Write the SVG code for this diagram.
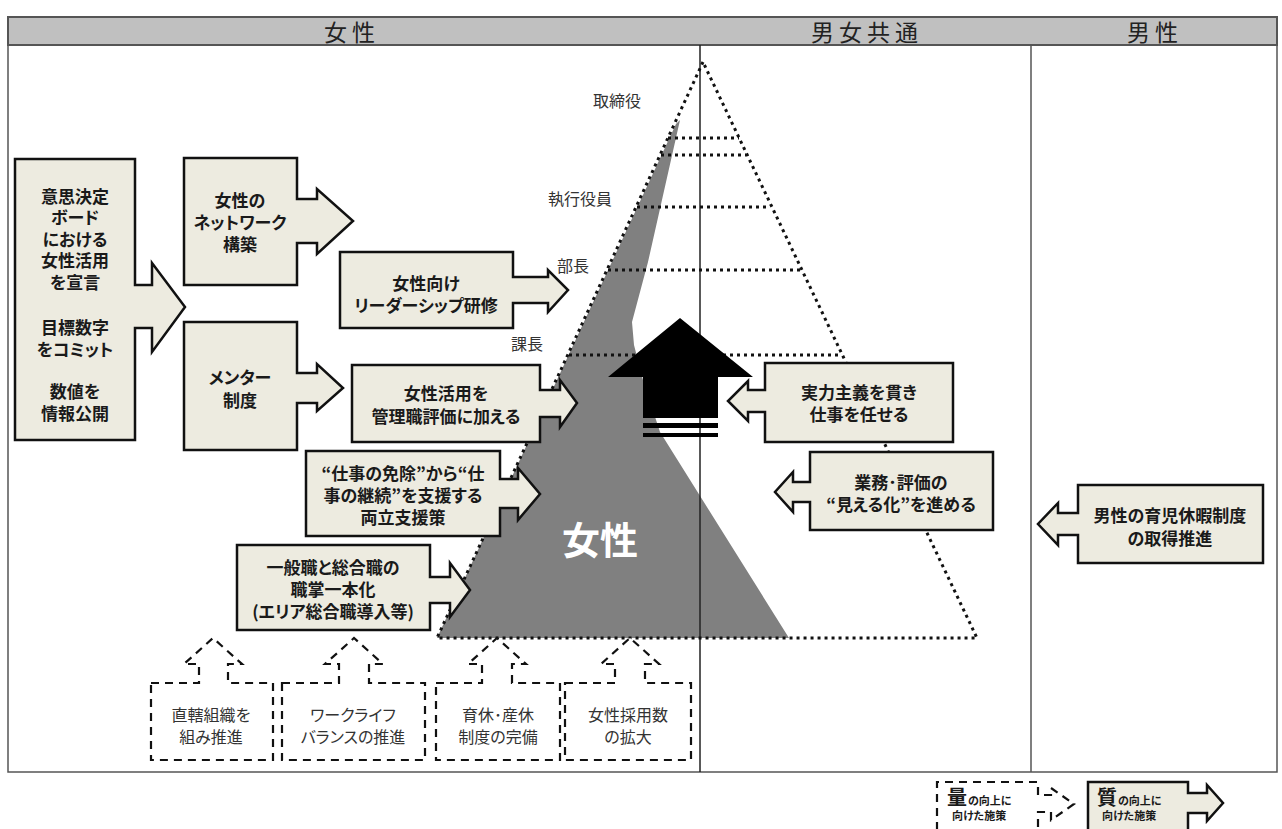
<svg xmlns="http://www.w3.org/2000/svg" width="1282" height="829" viewBox="0 0 1282 829">
<style>
.box{fill:#edebe0;stroke:#111;stroke-width:2.5;stroke-linejoin:miter}
.dbox{fill:#fff;stroke:#111;stroke-width:2.2;stroke-dasharray:8 6}
.dot{fill:none;stroke:#111;stroke-width:3;stroke-dasharray:3 4}
.t{font-family:"Noto Sans CJK JP","Noto Sans",sans-serif;font-weight:bold;font-size:17px;fill:#1a1a1a;text-anchor:middle;dominant-baseline:central;font-feature-settings:"palt"}
.n{font-family:"Noto Sans CJK JP","Noto Sans",sans-serif;font-weight:normal;font-size:16px;fill:#333;text-anchor:middle;dominant-baseline:central;font-feature-settings:"palt"}
.h{font-family:"Noto Sans CJK JP","Noto Sans",sans-serif;font-size:23px;fill:#222;text-anchor:middle;dominant-baseline:central;letter-spacing:5px}
.s{font-family:"Noto Sans CJK JP",sans-serif;font-weight:bold;font-size:11px;fill:#1a1a1a;dominant-baseline:central;font-feature-settings:"palt"}
.big{font-family:"Liberation Serif","Noto Sans CJK JP",serif;font-weight:bold;font-size:20px;fill:#1a1a1a;dominant-baseline:central}
</style>
<rect x="0" y="0" width="1282" height="829" fill="#fff"/>
<g id="frame">
<rect x="8" y="17" width="1269" height="755" fill="#fff" stroke="#555" stroke-width="1.5"/>
<rect x="8" y="17" width="1269" height="28" fill="#c0c0c0" stroke="#555" stroke-width="2"/>
<text class="h" x="352" y="31">女性</text>
<text class="h" x="867" y="31">男女共通</text>
<text class="h" x="1155" y="31">男性</text>
</g>
<g id="women-area">
<polygon points="680,120 648,262 632,322 634,345 643,380 660,432 789,638 437,638 676,124" fill="#808080"/>
<text x="600" y="537" font-family="Noto Sans CJK JP,sans-serif" font-weight="bold" font-size="38" fill="#fff" text-anchor="middle" dominant-baseline="central">女性</text>
</g>
<g id="dividers">
<line x1="700" y1="45" x2="700" y2="772" stroke="#222" stroke-width="1.5"/>
<line x1="1031" y1="45" x2="1031" y2="772" stroke="#555" stroke-width="1.5"/>
</g>
<g id="pyramid">
<path class="dot" d="M703,62 L437,638 H977 Z"/>
<line class="dot" x1="668" y1="138" x2="739" y2="138"/>
<line class="dot" x1="661" y1="155" x2="746" y2="155"/>
<line class="dot" x1="637" y1="207" x2="770" y2="207"/>
<line class="dot" x1="608" y1="270" x2="801" y2="270"/>
<line class="dot" x1="569" y1="355" x2="842" y2="355"/>
<text class="n" x="617" y="100">取締役</text>
<text class="n" x="580" y="198">執行役員</text>
<text class="n" x="573" y="265">部長</text>
<text class="n" x="527" y="343">課長</text>
</g>
<g id="up-arrow">
<path d="M680,318 L753,377 H718 V418 H643 V377 H608 Z" fill="#000"/>
<rect x="643" y="423" width="75" height="5" fill="#000"/>
<rect x="643" y="433" width="75" height="4" fill="#000"/>
</g>
<g id="connectors"></g>
<g id="n-declare">
<path class="box" d="M15,159 H135 V285 H152 V263 L185,307 L152,352 V328 H135 V440 H15 Z"/>
<text class="t" x="75" y="195">意思決定</text>
<text class="t" x="75" y="216">ボード</text>
<text class="t" x="75" y="238">における</text>
<text class="t" x="75" y="259">女性活用</text>
<text class="t" x="75" y="281">を宣言</text>
<text class="t" x="75" y="326">目標数字</text>
<text class="t" x="75" y="348">をコミット</text>
<text class="t" x="75" y="390">数値を</text>
<text class="t" x="75" y="412">情報公開</text>
</g>
<g id="n-network">
<path class="box" d="M184,158 H297 V199 H317 V189 L353,221 L317,254 V243 H297 V285 H184 Z"/>
<text class="t" x="240" y="199">女性の</text>
<text class="t" x="240" y="221">ネットワーク</text>
<text class="t" x="240" y="243">構築</text>
</g>
<g id="n-mentor">
<path class="box" d="M184,322 H297 V373 H317 V364 L343,388 L317,411 V403 H297 V450 H184 Z"/>
<text class="t" x="240" y="376">メンター</text>
<text class="t" x="240" y="399">制度</text>
</g>
<g id="n-leader">
<path class="box" d="M340,252 H513 V277 H548 V270 L568,290 L548,312 V303 H513 V328 H340 Z"/>
<text class="t" x="426" y="282">女性向け</text>
<text class="t" x="426" y="304">リーダーシップ研修</text>
</g>
<g id="n-eval">
<path class="box" d="M352,365 H540 V390 H560 V380 L577,403 L560,427 V417 H540 V442 H352 Z"/>
<text class="t" x="446" y="392">女性活用を</text>
<text class="t" x="446" y="415">管理職評価に加える</text>
</g>
<g id="n-balance">
<path class="box" d="M306,451 H500 V479 H518 V468 L540,494 L518,520 V508 H500 V536 H306 Z"/>
<text class="t" x="403" y="472">“仕事の免除”から“仕</text>
<text class="t" x="403" y="494">事の継続”を支援する</text>
<text class="t" x="403" y="516">両立支援策</text>
</g>
<g id="n-unify">
<path class="box" d="M237,545 H430 V577 H450 V563 L470,590 L450,617 V603 H430 V630 H237 Z"/>
<text class="t" x="333" y="566">一般職と総合職の</text>
<text class="t" x="333" y="588">職掌一本化</text>
<text class="t" x="333" y="610">(エリア総合職導入等)</text>
</g>
<g id="n-merit">
<path class="box" d="M953,363 H765 V390 H748 V381 L728,401 L748,421 V412 H765 V442 H953 Z"/>
<text class="t" x="859" y="391">実力主義を貫き</text>
<text class="t" x="859" y="413">仕事を任せる</text>
</g>
<g id="n-visible">
<path class="box" d="M993,452 H810 V482 H793 V472 L775,492 L793,512 V502 H810 V530 H993 Z"/>
<text class="t" x="901" y="481">業務･評価の</text>
<text class="t" x="901" y="503">“見える化”を進める</text>
</g>
<g id="n-men">
<path class="box" d="M1263,485 H1078 V513 H1058 V503 L1038,524 L1058,545 V535 H1078 V563 H1263 Z"/>
<text class="t" x="1170" y="514">男性の育児休暇制度</text>
<text class="t" x="1170" y="537">の取得推進</text>
</g>
<g id="n-direct">
<path class="dbox" d="M151,683 H199 V664 H184 L213,638 L242,664 H228 V683 H273 V760 H151 Z"/>
<text class="n" x="211" y="714">直轄組織を</text>
<text class="n" x="211" y="736">組み推進</text>
</g>
<g id="n-wlb">
<path class="dbox" d="M282,683 H339 V664 H325 L354,638 L383,664 H369 V683 H425 V760 H282 Z"/>
<text class="n" x="353" y="714">ワークライフ</text>
<text class="n" x="353" y="736">バランスの推進</text>
</g>
<g id="n-leave">
<path class="dbox" d="M436,683 H482 V664 H468 L497,638 L526,664 H512 V683 H560 V760 H436 Z"/>
<text class="n" x="498" y="714">育休･産休</text>
<text class="n" x="498" y="736">制度の完備</text>
</g>
<g id="n-hire">
<path class="dbox" d="M565,683 H615 V664 H601 L630,638 L659,664 H645 V683 H691 V760 H565 Z"/>
<text class="n" x="628" y="714">女性採用数</text>
<text class="n" x="628" y="736">の拡大</text>
</g>
<g id="legend">
<path class="dbox" d="M937,830 V782 H1038 V795 H1051 V788 L1074,804 L1051,820 V812 H1038 V830"/>
<text class="big" x="947" y="798">量</text>
<text class="s" x="968" y="800">の向上に</text>
<text class="s" x="952" y="815">向けた施策</text>
<path class="box" d="M1088,832 V782 H1188 V793 H1207 V785 L1223,803 L1207,821 V813 H1188 V832"/>
<text class="big" x="1097" y="798">質</text>
<text class="s" x="1118" y="800">の向上に</text>
<text class="s" x="1102" y="815">向けた施策</text>
</g>
</svg>
